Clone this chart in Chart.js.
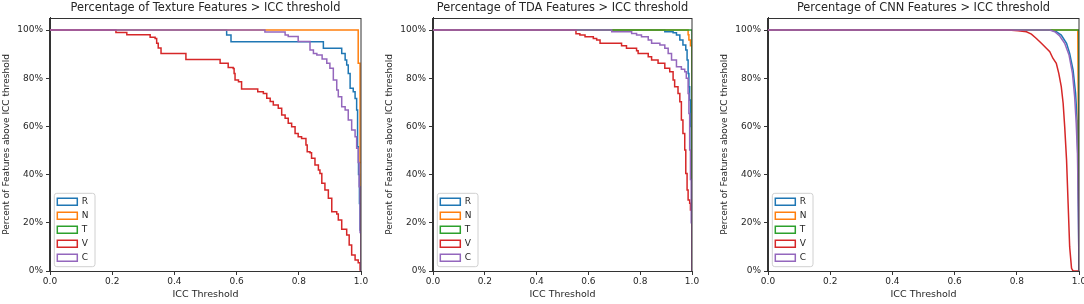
<!DOCTYPE html>
<html><head><meta charset="utf-8">
<script src="https://cdn.jsdelivr.net/npm/chart.js@4"></script>
<style>
html,body{margin:0;padding:0;background:#fff;}
#wrap{position:relative;width:1084px;height:304px;overflow:hidden;}
canvas{position:absolute;top:0;}
</style></head><body>
<div id="wrap">
<canvas id="c1" width="372" height="304" style="left:0px;width:372px;height:304px"></canvas>
<canvas id="c2" width="320" height="304" style="left:383px;width:320px;height:304px"></canvas>
<canvas id="c3" width="366" height="304" style="left:718px;width:366px;height:304px"></canvas>
</div>
<script>
// ---- data ----
const seriesNames = ['R', 'N', 'T', 'V', 'C'];
const panelTitles = ['Percentage of Texture Features > ICC threshold', 'Percentage of TDA Features > ICC threshold', 'Percentage of CNN Features > ICC threshold'];
const xAxisTitle = 'ICC Threshold';
const yAxisTitle = 'Percent of Features above ICC threshold';

// Texture
const texR_t = [0, 0.568, 0.582, 0.879, 0.938, 0.949, 0.954, 0.959, 0.965, 0.975, 0.981, 0.986, 0.989, 0.992, 0.995, 0.997, 1.0];
const texR_pct = [100, 97.9, 95.1, 92.4, 90.3, 87.6, 85.5, 82, 75.8, 74.4, 71.6, 66.8, 51.6, 40, 28, 17, 0];
const texN_t = [0, 0.991, 0.997, 1.0];
const texN_pct = [100, 86.2, 45, 0];
const texT_t = [];
const texT_pct = [];
const texV_t = [0, 0.212, 0.247, 0.322, 0.338, 0.343, 0.348, 0.357, 0.437, 0.547, 0.573, 0.589, 0.592, 0.595, 0.606, 0.616, 0.668, 0.686, 0.697, 0.708, 0.718, 0.734, 0.745, 0.756, 0.766, 0.777, 0.788, 0.798, 0.809, 0.823, 0.827, 0.836, 0.841, 0.852, 0.863, 0.868, 0.874, 0.884, 0.895, 0.906, 0.922, 0.927, 0.938, 0.954, 0.962, 0.970, 0.981, 0.991, 0.997, 1.0];
const texV_pct = [100, 99, 98, 97, 96.5, 94.5, 92.5, 90.3, 87.8, 86.2, 84.5, 84, 82, 79.3, 78.5, 75.5, 74.4, 73.7, 71.7, 70.3, 68.9, 67.5, 64.7, 63.4, 61.3, 59.9, 57.1, 55.7, 55, 52.3, 49.5, 49.1, 46.8, 44, 41.9, 40.5, 36.4, 33.6, 30.2, 24.6, 23.7, 21.2, 17.3, 14.9, 10.8, 6.6, 4.6, 3.4, 0.4, 0];
const texC_t = [0, 0.691, 0.756, 0.766, 0.798, 0.836, 0.847, 0.858, 0.875, 0.89, 0.9, 0.911, 0.922, 0.927, 0.938, 0.949, 0.959, 0.97, 0.981, 0.986, 0.991, 0.994, 0.997, 1.0];
const texC_pct = [100, 99.2, 97.9, 97.3, 95.2, 91.7, 90.3, 89.6, 88, 86.2, 84.1, 79.3, 75.1, 72.3, 68.2, 66.8, 62.7, 58.5, 55.7, 50.9, 45, 35, 16, 0];

// TDA
const tdaR_t = [0, 0.895, 0.927, 0.94, 0.953, 0.965, 0.976, 0.981, 0.985, 0.988, 0.991, 0.994, 0.997, 1.0];
const tdaR_pct = [100, 99.3, 98.9, 97.9, 95.9, 93.8, 91.7, 87.6, 82, 76.5, 71, 60, 40, 0];
const tdaN_t = [0, 0.985, 0.988, 0.994, 1.0];
const tdaN_pct = [100, 98, 95.9, 93.5, 0];
const tdaT_t = [0, 1.0];
const tdaT_pct = [100, 0];
const tdaV_t = [0, 0.552, 0.567, 0.587, 0.619, 0.632, 0.645, 0.728, 0.747, 0.786, 0.792, 0.831, 0.844, 0.869, 0.895, 0.914, 0.927, 0.933, 0.946, 0.953, 0.959, 0.965, 0.972, 0.976, 0.981, 0.985, 0.991, 0.994, 1.0];
const tdaV_pct = [100, 98.5, 97.9, 97.2, 96.5, 95.9, 94.5, 93.5, 92.4, 91.4, 90.3, 88.9, 87.6, 86.2, 84.1, 82.7, 79.3, 76.5, 73.7, 70.2, 62.7, 57.1, 50.2, 40.5, 33.6, 29.5, 28.1, 25.3, 0];
const tdaC_t = [0, 0.69, 0.767, 0.786, 0.805, 0.831, 0.844, 0.876, 0.895, 0.908, 0.921, 0.94, 0.959, 0.972, 0.978, 0.985, 0.988, 0.991, 0.994, 0.997, 1.0];
const tdaC_pct = [100, 99.3, 98.6, 97.9, 97.2, 95.9, 94.5, 93.8, 92.4, 90.3, 87.6, 84.8, 83.7, 82.7, 80, 73.7, 65.4, 50.2, 38, 20, 0];

// CNN
const cnnR_t = [0, 0.911, 0.927, 0.943, 0.96, 0.97, 0.981, 0.989, 0.994, 0.996, 0.998, 1.0];
const cnnR_pct = [100, 100, 99.3, 97.9, 94.5, 90.3, 83.4, 73.7, 62.7, 48.8, 25, 0];
const cnnN_t = [0, 0.996, 0.998, 1.0];
const cnnN_pct = [100, 100, 60, 0];
const cnnT_t = [0, 1.0, 1.0];
const cnnT_pct = [100, 100, 0];
const cnnV_t = [0, 0.772, 0.804, 0.831, 0.847, 0.863, 0.879, 0.895, 0.906, 0.916, 0.927, 0.935, 0.943, 0.949, 0.954, 0.96, 0.965, 0.97, 0.976, 0.981, 1.0];
const cnnV_pct = [100, 100, 99.7, 99.3, 98.3, 96.5, 94.5, 92.4, 91, 88.3, 86.2, 82, 76.5, 69.6, 59.9, 46, 28, 10, 1.1, 0, 0];
const cnnC_t = [0, 0.906, 0.922, 0.938, 0.954, 0.968, 0.979, 0.986, 0.991, 0.995, 0.998, 1.0];
const cnnC_pct = [100, 100, 99.3, 97.5, 94.5, 89.6, 82, 72.3, 61.3, 48.8, 25, 0];

// ---- styles ----
const COLORS = ['#1f77b4', '#ff7f0e', '#2ca02c', '#d62728', '#9467bd'];
const TEXT = '#262626';
const SPINE = '#333333';
Chart.defaults.font.family = "'DejaVu Sans', sans-serif";
Chart.defaults.color = TEXT;

function pts(xs, ys) { return xs.map((x, i) => ({ x: x, y: ys[i] })); }

const framePlugin = {
  id: 'frameAndLegend',
  beforeDraw(chart) {
    const lg = chart.legend, ca = chart.chartArea, ctx = chart.ctx;
    if (lg && lg.columnSizes && lg.columnSizes.length) {
      const pad = lg.options.labels.padding;
      const colH = lg.columnSizes[0].height;
      const b = ca.bottom - 3.8;
      lg.left = ca.left + 2.3;
      lg.right = lg.left + 60;
      lg.bottom = b;
      lg.top = b - colH - pad;
    }
    const fw = 40.7, fh = 73.4;
    const fx = ca.left + 4.3, fy = ca.bottom - 4.3 - fh, r = 2.5;
    ctx.save();
    ctx.beginPath();
    ctx.moveTo(fx + r, fy);
    ctx.lineTo(fx + fw - r, fy);
    ctx.arcTo(fx + fw, fy, fx + fw, fy + r, r);
    ctx.lineTo(fx + fw, fy + fh - r);
    ctx.arcTo(fx + fw, fy + fh, fx + fw - r, fy + fh, r);
    ctx.lineTo(fx + r, fy + fh);
    ctx.arcTo(fx, fy + fh, fx, fy + fh - r, r);
    ctx.lineTo(fx, fy + r);
    ctx.arcTo(fx, fy, fx + r, fy, r);
    ctx.closePath();
    ctx.fillStyle = 'rgba(255,255,255,0.8)';
    ctx.fill();
    ctx.strokeStyle = '#d0d0d0';
    ctx.lineWidth = 1;
    ctx.stroke();
    ctx.restore();
  },
  afterDraw(chart) {
    const ca = chart.chartArea, ctx = chart.ctx;
    ctx.save();
    ctx.strokeStyle = SPINE;
    ctx.lineWidth = 1;
    ctx.strokeRect(Math.round(ca.left) - 0.5, Math.round(ca.top) + 0.5, Math.round(ca.right - ca.left) + 0.5, Math.round(ca.bottom - ca.top));
    ctx.restore();
  }
};

function makeChart(id, title, series, stepped, rightPad) {
  const datasets = series.map((s, i) => ({
    label: seriesNames[i],
    data: pts(s[0], s[1]),
    borderColor: COLORS[i],
    backgroundColor: 'rgba(0,0,0,0)',
    borderWidth: 1.5,
    pointRadius: 0,
    pointHoverRadius: 0,
    fill: false,
    tension: 0,
    stepped: stepped ? 'before' : false,
    order: series.length - 1 - i
  }));
  return new Chart(document.getElementById(id), {
    type: 'line',
    data: { datasets: datasets },
    plugins: [framePlugin],
    options: {
      responsive: false,
      animation: false,
      events: [],
      layout: { padding: { left: 0, right: rightPad, top: 0, bottom: 0 } },
      scales: {
        x: {
          type: 'linear', min: 0, max: 1,
          ticks: { stepSize: 0.2, callback: v => v.toFixed(1), font: { size: 9 }, color: TEXT, padding: 1, maxRotation: 0 },
          grid: { display: true, drawOnChartArea: false, drawTicks: true, tickLength: 4, color: SPINE },
          border: { display: true, color: SPINE, width: 1 },
          title: { display: true, text: xAxisTitle, font: { size: 9.5 }, color: TEXT, padding: { top: 2, bottom: 3.3 } },
          afterFit: s => { s.height = 33; s.paddingLeft = 0; s.paddingRight = 0; }
        },
        y: {
          type: 'linear', min: 0, max: 105,
          ticks: { stepSize: 20, includeBounds: false, callback: v => v + '%', font: { size: 9 }, color: TEXT, padding: 3 },
          afterBuildTicks: s => { s.ticks = s.ticks.filter(t => t.value <= 100); },
          grid: { display: true, drawOnChartArea: false, drawTicks: true, tickLength: 4, color: SPINE },
          border: { display: true, color: SPINE, width: 1 },
          title: { display: true, text: yAxisTitle, font: { size: 9 }, color: TEXT, padding: { top: 1.2, bottom: 0 } },
          afterFit: s => { s.width = 50; s.paddingTop = 0; s.paddingBottom = 0; }
        }
      },
      plugins: {
        title: { display: true, text: title, fullSize: false, font: { size: 11.4, weight: 'normal' }, color: TEXT, padding: { top: 1.3, bottom: 3 } },
        legend: {
          display: true, position: 'chartArea', align: 'end',
          labels: { boxWidth: 20, boxHeight: 7, padding: 5, font: { size: 9 }, color: TEXT,
            sort: (a, b) => a.datasetIndex - b.datasetIndex }
        },
        tooltip: { enabled: false }
      }
    }
  });
}

makeChart('c1', panelTitles[0], [[texR_t, texR_pct], [texN_t, texN_pct], [texT_t, texT_pct], [texV_t, texV_pct], [texC_t, texC_pct]], true, 11);
makeChart('c2', panelTitles[1], [[tdaR_t, tdaR_pct], [tdaN_t, tdaN_pct], [tdaT_t, tdaT_pct], [tdaV_t, tdaV_pct], [tdaC_t, tdaC_pct]], true, 11);
makeChart('c3', panelTitles[2], [[cnnR_t, cnnR_pct], [cnnN_t, cnnN_pct], [cnnT_t, cnnT_pct], [cnnV_t, cnnV_pct], [cnnC_t, cnnC_pct]], false, 5);
</script>
</body></html>
